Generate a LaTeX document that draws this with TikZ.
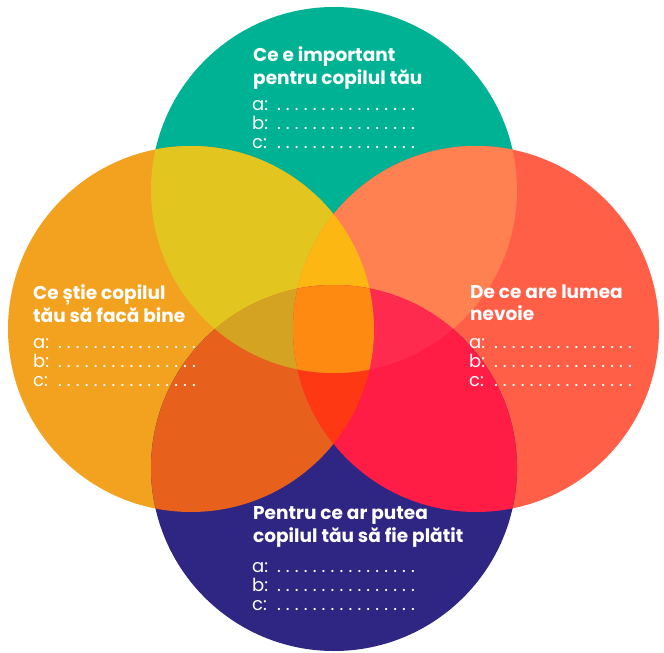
\documentclass[tikz,border=0pt]{standalone}
\usepackage{fontspec}
\setmainfont{Poppins}

\definecolor{cTop}{HTML}{00B294}
\definecolor{cLeft}{HTML}{F2A21E}
\definecolor{cRight}{HTML}{FF5E47}
\definecolor{cBottom}{HTML}{2E2682}
\definecolor{cTL}{HTML}{E2C61F}
\definecolor{cTR}{HTML}{FF8050}
\definecolor{cBL}{HTML}{E8611C}
\definecolor{cBR}{HTML}{FF1C45}
\definecolor{cTLR}{HTML}{FDB713}
\definecolor{cBLR}{HTML}{FF3814}
\definecolor{cTBL}{HTML}{D4A321}
\definecolor{cTBR}{HTML}{FF2B4E}
\definecolor{cAll}{HTML}{FF8A12}

\newcommand{\rr}{183pt}
\newcommand{\answer}[1]{\makebox[22pt][l]{#1:}\hbox to 143.6pt{\xleaders\hbox to 8.45pt{\hss.\hss}\hfill}}

\begin{document}
\begin{tikzpicture}[x=1pt,y=-1pt]
    \tikzstyle{head}=[anchor=north west, inner sep=0pt, align=left, text=white, font=\bfseries\fontsize{18.5}{22.5}\selectfont];
    \tikzstyle{list}=[anchor=north west, inner sep=0pt, align=left, text=white, font=\fontsize{18}{19}\selectfont];

    \useasboundingbox (0,0) rectangle (664,653);

    \coordinate (T) at (334,190);
    \coordinate (B) at (334,468);
    \coordinate (L) at (191,329);
    \coordinate (R) at (476,329);

    % the four circles
    \fill[cTop] (T) circle[radius=\rr];
    \fill[cLeft] (L) circle[radius=\rr];
    \fill[cRight] (R) circle[radius=\rr];
    \fill[cBottom] (B) circle[radius=\rr];

    % two at a time
    \begin{scope}\clip (T) circle[radius=\rr]; \fill[cTL] (L) circle[radius=\rr]; \end{scope}
    \begin{scope}\clip (T) circle[radius=\rr]; \fill[cTR] (R) circle[radius=\rr]; \end{scope}
    \begin{scope}\clip (B) circle[radius=\rr]; \fill[cBL] (L) circle[radius=\rr]; \end{scope}
    \begin{scope}\clip (B) circle[radius=\rr]; \fill[cBR] (R) circle[radius=\rr]; \end{scope}

    % three at a time
    \begin{scope}\clip (L) circle[radius=\rr]; \clip (R) circle[radius=\rr]; \fill[cTLR] (T) circle[radius=\rr]; \end{scope}
    \begin{scope}\clip (L) circle[radius=\rr]; \clip (R) circle[radius=\rr]; \fill[cBLR] (B) circle[radius=\rr]; \end{scope}
    \begin{scope}\clip (T) circle[radius=\rr]; \clip (B) circle[radius=\rr]; \fill[cTBL] (L) circle[radius=\rr]; \end{scope}
    \begin{scope}\clip (T) circle[radius=\rr]; \clip (B) circle[radius=\rr]; \fill[cTBR] (R) circle[radius=\rr]; \end{scope}

    % all four
    \begin{scope}
        \clip (T) circle[radius=\rr]; \clip (B) circle[radius=\rr]; \clip (L) circle[radius=\rr];
        \fill[cAll] (R) circle[radius=\rr];
    \end{scope}

    % texts
    \node[head] (topHead) at (253,46.5) {Ce e important\\pentru copilul tău};
    \node[list] (topList) at (252,100) {\answer{a}\\\answer{b}\\\answer{c}};

    \node[head] (leftHead) at (33,284.5) {Ce știe copilul\\tău să facă bine};
    \node[list] (leftList) at (33,338) {\answer{a}\\\answer{b}\\\answer{c}};

    \node[head] (rightHead) at (470,284.5) {De ce are lumea\\nevoie};
    \node[list] (rightList) at (469,338) {\answer{a}\\\answer{b}\\\answer{c}};

    \node[head] (bottomHead) at (253,506.5) {Pentru ce ar putea\\copilul tău să fie plătit};
    \node[list] (bottomList) at (252,562) {\answer{a}\\\answer{b}\\\answer{c}};
\end{tikzpicture}
\end{document}
